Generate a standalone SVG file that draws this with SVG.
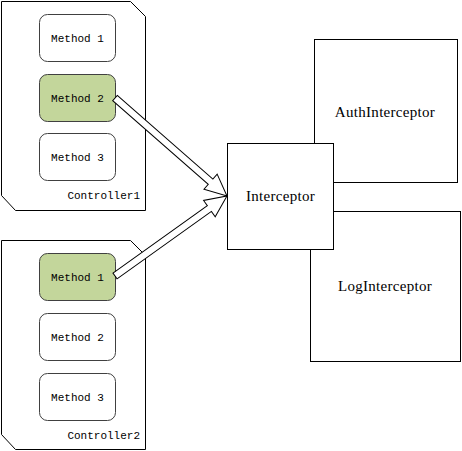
<svg xmlns="http://www.w3.org/2000/svg" width="462" height="451" viewBox="0 0 462 451">
<style>
.ctrl{fill:#fff;stroke:#000;stroke-width:1}
.m{fill:#fff;stroke:#404040;stroke-width:1}
.mg{fill:#c3d69b;stroke:#404040;stroke-width:1}
.mt{font-family:"Liberation Mono",monospace;font-size:11px;fill:#000;text-anchor:middle}
.ct{font-family:"Liberation Mono",monospace;font-size:11px;fill:#000;text-anchor:end}
.box{fill:#fff;stroke:#000;stroke-width:1}
.bt{font-family:"Liberation Serif",serif;font-size:15px;letter-spacing:0.3px;fill:#000;text-anchor:middle}
.arr{fill:#fff;stroke:#000;stroke-width:1;stroke-linejoin:miter}
</style>
<rect width="462" height="451" fill="#fff"/>
<g id="controller1">
<path class="ctrl" d="M1.5,1.5 H130.5 L145.5,16.5 V210.5 H15.5 L1.5,195.5 Z"/>
<text class="ct" x="140" y="199">Controller1</text>
</g>
<g id="c1-method1"><rect class="m" x="39.5" y="14.5" width="76" height="47" rx="8"/><text class="mt" x="77.5" y="42">Method 1</text></g>
<g id="c1-method2"><rect class="mg" x="39.5" y="74.5" width="76" height="47" rx="8"/><text class="mt" x="77.5" y="102">Method 2</text></g>
<g id="c1-method3"><rect class="m" x="39.5" y="133.5" width="76" height="47" rx="8"/><text class="mt" x="77.5" y="161">Method 3</text></g>
<g id="controller2">
<path class="ctrl" d="M1.5,240.5 H130.5 L145.5,255.5 V449.5 H15.5 L1.5,434.5 Z"/>
<text class="ct" x="140" y="439">Controller2</text>
</g>
<g id="c2-method1"><rect class="mg" x="39.5" y="253.5" width="76" height="47" rx="8"/><text class="mt" x="77.5" y="281">Method 1</text></g>
<g id="c2-method2"><rect class="m" x="39.5" y="313.5" width="76" height="47" rx="8"/><text class="mt" x="77.5" y="341">Method 2</text></g>
<g id="c2-method3"><rect class="m" x="39.5" y="373.5" width="76" height="47" rx="8"/><text class="mt" x="77.5" y="401">Method 3</text></g>
<g id="auth"><rect class="box" x="314.5" y="39.5" width="143" height="143"/><text class="bt" x="385" y="117">AuthInterceptor</text></g>
<g id="log"><rect class="box" x="310.5" y="211.5" width="150" height="150"/><text class="bt" x="385" y="291">LogInterceptor</text></g>
<g id="connectors">
<polygon class="arr" transform="translate(115,98) rotate(41.19)" points="0,-3.5 127,-3.5 127,-10 148.8,0 127,10 127,3.5 0,3.5"/>
<polygon class="arr" transform="translate(115,276) rotate(-35.54)" points="0,-3.5 116,-3.5 116,-10 137.6,0 116,10 116,3.5 0,3.5"/>
</g>
<g id="interceptor"><rect class="box" x="227.5" y="143.5" width="106" height="106"/><text class="bt" x="280.5" y="201">Interceptor</text></g>
</svg>
